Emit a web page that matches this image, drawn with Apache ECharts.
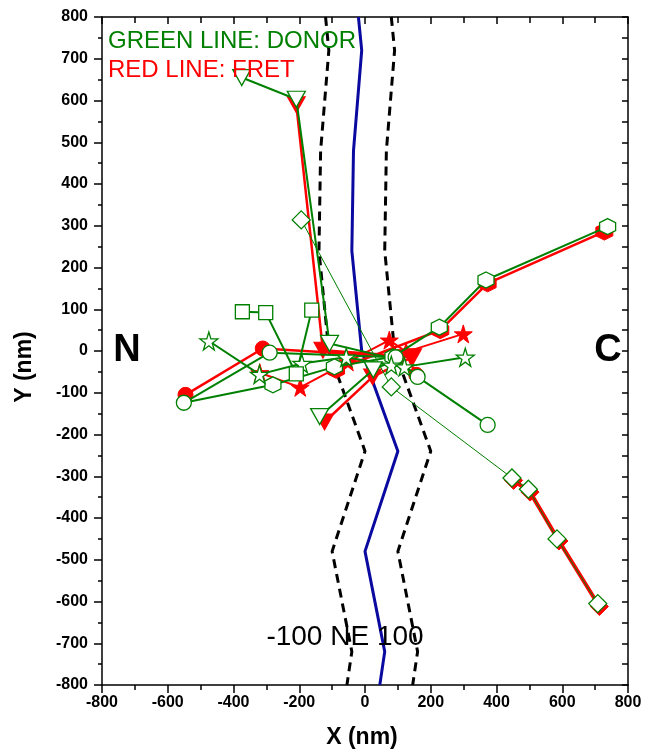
<!DOCTYPE html>
<html>
<head>
<meta charset="utf-8">
<script src="https://cdn.jsdelivr.net/npm/echarts@6/dist/echarts.min.js"></script>
<style>html,body{margin:0;padding:0;background:#fff;}#c{width:646px;height:755px;}</style>
</head>
<body>
<div id="c"></div>
<script>
// ---- data (nm) ----
const centerY = [800, 720, 480, 240, 0, -240, -480, -720, -800];
const centerX = [-20, -10, -35, -40, -10, 100, 0, 60, 45];
const leftDashX = [-120, -110, -135, -140, -110, 0, -100, -40, -55];
const rightDashX = [80, 90, 65, 60, 90, 200, 100, 160, 145];

const triGreen = [[-375, 655], [-209, 603], [-108, 18], [95, -20], [25, -45], [-138, -157]];
const triRed = [[-209, 590], [-128, 2], [145, -14], [23, -62], [-123, -170]];
const hexGreen = [[738, 298], [368, 170], [226, 57], [85, -14], [-93, -38], [-280, -81], [-551, -124]];
const hexRed = [[728, 286], [373, 162], [229, 50], [-88, -45]];
const circGreen = [[-551, -124], [-290, -4], [93, -15], [160, -62], [373, -177]];
const circRed = [[-546, -105], [-311, 6], [130, -15], [156, -57]];
const starGreen = [[-475, 24], [-321, -56], [-192, -30], [-57, -15], [80, -34], [120, -38], [305, -15]];
const starRed = [[-320, -52], [-197, -87], [-52, -26], [74, 26], [125, -2], [299, 41]];
const sqGreen = [[-373, 94], [-302, 92], [-209, -55], [-162, 98]];
const diaGreen = [[-194, 314], [80, -86], [447, -304], [497, -331], [584, -450], [708, -605]];
const diaRed = [[452, -310], [502, -338], [590, -455], [713, -612]];

const xTicks = [-800, -600, -400, -200, 0, 200, 400, 600, 800];
const yTicks = [-800, -700, -600, -500, -400, -300, -200, -100, 0, 100, 200, 300, 400, 500, 600, 700, 800];

// ---- styles ----
const GREEN = '#008000', RED = '#ff0000', BLUE = '#0a0aa0';
const STAR = 'path://M50,0 L61,35 L98,35 L68,57 L79,91 L50,70 L21,91 L32,57 L2,35 L39,35 Z';
const HEX = 'path://M50,0 L93,25 L93,75 L50,100 L7,75 L7,25 Z';

function pts(arr, hidden) {
  return arr.map((p, i) => (hidden && hidden.indexOf(i) >= 0) ? {value: p, symbol: 'none'} : p);
}
function redSeries(data, symbol, size, rot, width, hidden) {
  return {type: 'line', data: pts(data, hidden), symbol: symbol, symbolSize: size, symbolRotate: rot || 0,
    showAllSymbol: true, animation: false, z: 3,
    lineStyle: {color: RED, width: width || 2.5},
    itemStyle: {color: RED, borderColor: RED, borderWidth: 1}};
}
function greenSeries(data, symbol, size, rot, width, hidden) {
  return {type: 'line', data: pts(data, hidden), symbol: symbol, symbolSize: size, symbolRotate: rot || 0,
    showAllSymbol: true, animation: false, z: 4,
    lineStyle: {color: GREEN, width: width || 2},
    itemStyle: {color: '#ffffff', borderColor: GREEN, borderWidth: 1.3}};
}
function pathLine(xs, ys, color, type, width) {
  return {type: 'line', data: xs.map((x, i) => [x, ys[i]]), symbol: 'none', animation: false, z: 2,
    lineStyle: {color: color, width: width, type: type}};
}

const axisLineStyle = {color: '#000', width: 1.5};
const labelStyle = {color: '#000', fontFamily: 'Liberation Sans, Arial, sans-serif', fontWeight: 'bold', fontSize: 16};

const chart = echarts.init(document.getElementById('c'), null, {renderer: 'canvas'});
chart.setOption({
  backgroundColor: '#ffffff',
  animation: false,
  grid: {left: 102, right: 18, top: 17, bottom: 70, containLabel: false},
  xAxis: [
    {type: 'value', position: 'bottom', min: -800, max: 800, interval: 200,
      axisLine: {show: true, onZero: false, lineStyle: axisLineStyle},
      axisTick: {show: true, inside: false, length: 8, lineStyle: axisLineStyle},
      minorTick: {show: true, splitNumber: 2, length: 5, lineStyle: axisLineStyle},
      splitLine: {show: false}, minorSplitLine: {show: false},
      axisLabel: Object.assign({margin: 10, formatter: v => xTicks.indexOf(v) >= 0 ? String(v) : ''}, labelStyle)},
    {type: 'value', position: 'top', min: -800, max: 800, interval: 200,
      axisLine: {show: true, onZero: false, lineStyle: axisLineStyle},
      axisTick: {show: true, inside: true, length: 7, lineStyle: axisLineStyle},
      minorTick: {show: true, splitNumber: 2, length: 6, lineStyle: axisLineStyle},
      splitLine: {show: false}, axisLabel: {show: false}}
  ],
  yAxis: [
    {type: 'value', position: 'left', min: -800, max: 800, interval: 100,
      axisLine: {show: true, onZero: false, lineStyle: axisLineStyle},
      axisTick: {show: true, inside: false, length: 8, lineStyle: axisLineStyle},
      minorTick: {show: true, splitNumber: 2, length: 4, lineStyle: axisLineStyle},
      splitLine: {show: false}, minorSplitLine: {show: false},
      axisLabel: Object.assign({margin: 14, formatter: v => yTicks.indexOf(v) >= 0 ? String(v) : ''}, labelStyle)},
    {type: 'value', position: 'right', min: -800, max: 800, interval: 100,
      axisLine: {show: true, onZero: false, lineStyle: axisLineStyle},
      axisTick: {show: true, inside: true, length: 6, lineStyle: axisLineStyle},
      minorTick: {show: true, splitNumber: 2, length: 6, lineStyle: axisLineStyle},
      splitLine: {show: false}, axisLabel: {show: false}}
  ],
  series: [
    pathLine(leftDashX, centerY, '#000', [9, 6], 3),
    pathLine(rightDashX, centerY, '#000', [9, 6], 3),
    pathLine(centerX, centerY, BLUE, 'solid', 3),
    redSeries(diaRed, 'diamond', 18, 0, 4),
    redSeries(hexRed, HEX, 17, 0, 2.5),
    redSeries(triRed, 'triangle', [18, 16], 180, 2.5),
    redSeries(circRed, 'circle', 15, 0, 2.5, [2]),
    redSeries(starRed, STAR, 18, 0, 2),
    greenSeries(diaGreen, 'diamond', 18, 0, 1),
    greenSeries(hexGreen, HEX, 16, 0, 2, [6]),
    greenSeries(triGreen, 'triangle', [18, 16], 180, 2, [3]),
    greenSeries(circGreen, 'circle', 15, 0, 2),
    greenSeries(starGreen, STAR, 18, 0, 2),
    greenSeries(sqGreen, 'rect', 14, 0, 2)
  ],
  graphic: [
    {type: 'text', left: 108, top: 29, z: 10, style: {text: 'GREEN LINE: DONOR', fill: GREEN, font: '24px "Liberation Sans", Arial, sans-serif'}},
    {type: 'text', left: 108, top: 58, z: 10, style: {text: 'RED LINE: FRET', fill: RED, font: '24px "Liberation Sans", Arial, sans-serif'}},
    {type: 'text', x: 127, y: 351, z: 10, style: {text: 'N', fill: '#000', align: 'center', verticalAlign: 'middle', font: 'bold 38px "Liberation Sans", Arial, sans-serif'}},
    {type: 'text', x: 608, y: 351, z: 10, style: {text: 'C', fill: '#000', align: 'center', verticalAlign: 'middle', font: 'bold 38px "Liberation Sans", Arial, sans-serif'}},
    {type: 'text', x: 345, y: 637, z: 10, style: {text: '-100 NE 100', fill: '#000', align: 'center', verticalAlign: 'middle', font: '28px "Liberation Sans", Arial, sans-serif'}},
    {type: 'text', x: 362, y: 738, z: 10, style: {text: 'X (nm)', fill: '#000', align: 'center', verticalAlign: 'middle', font: 'bold 23px "Liberation Sans", Arial, sans-serif'}},
    {type: 'text', x: 25, y: 367, rotation: Math.PI / 2, z: 10, style: {text: 'Y (nm)', fill: '#000', align: 'center', verticalAlign: 'middle', font: 'bold 23px "Liberation Sans", Arial, sans-serif'}}
  ]
});
</script>
</body>
</html>
